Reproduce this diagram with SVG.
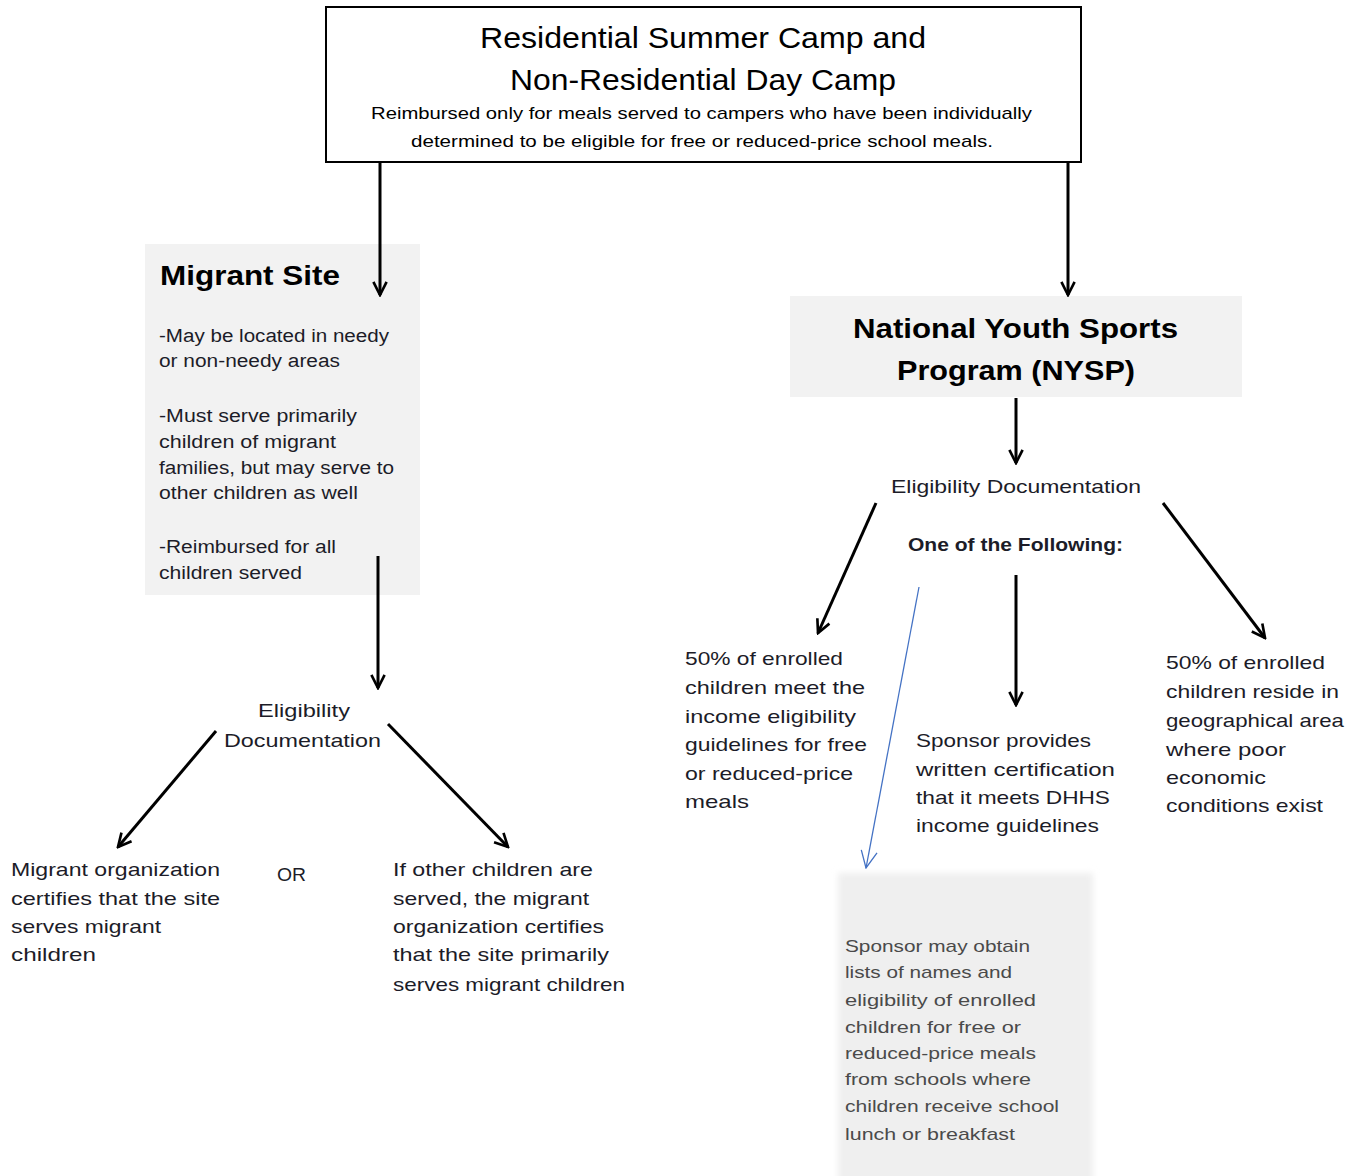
<svg xmlns="http://www.w3.org/2000/svg" width="1359" height="1176" viewBox="0 0 1359 1176">
<defs>
<marker id="ah" viewBox="0 0 10 10" refX="9" refY="5" markerWidth="5.5" markerHeight="5.5" orient="auto" markerUnits="strokeWidth">
<path d="M1,1 L9,5 L1,9" fill="none" stroke="#000" stroke-width="1.6"/>
</marker>
<marker id="ahb" viewBox="0 0 20 20" refX="19" refY="10" markerWidth="20" markerHeight="20" orient="auto" markerUnits="userSpaceOnUse">
<path d="M2,2 L19,10 L2,18" fill="none" stroke="#4472c4" stroke-width="1.3"/>
</marker>
<filter id="soft" x="-10%" y="-10%" width="120%" height="120%">
<feGaussianBlur stdDeviation="3"/>
</filter>
</defs>
<style>
text{font-family:"Liberation Sans",Arial,sans-serif;fill:#1c1c28}
.t1{font-size:30px;fill:#000}
.t2{font-size:17px;fill:#000}
.hb{font-size:28px;font-weight:bold;fill:#000}
.b{font-size:18px}
.s{font-size:19px}
.g{font-size:17px;fill:#4a4a4a}
.c line{stroke:#000;stroke-width:3;marker-end:url(#ah)}
</style>
<rect width="1359" height="1176" fill="#fff"/>

<g id="top">
<rect x="326" y="7" width="755" height="155" fill="#fff" stroke="#000" stroke-width="2"/>
<text class="t1" x="480" y="48" textLength="446" lengthAdjust="spacingAndGlyphs">Residential Summer Camp and</text>
<text class="t1" x="510" y="90" textLength="386" lengthAdjust="spacingAndGlyphs">Non-Residential Day Camp</text>
<text class="t2" x="371" y="119" textLength="661" lengthAdjust="spacingAndGlyphs">Reimbursed only for meals served to campers who have been individually</text>
<text class="t2" x="411" y="147" textLength="582" lengthAdjust="spacingAndGlyphs">determined to be eligible for free or reduced-price school meals.</text>
</g>

<g id="migrant">
<rect x="145" y="244" width="275" height="351" fill="#f2f2f2"/>
<text class="hb" x="160" y="285" textLength="180" lengthAdjust="spacingAndGlyphs">Migrant Site</text>
<text class="b" x="159" y="342" textLength="230" lengthAdjust="spacingAndGlyphs">-May be located in needy</text>
<text class="b" x="159" y="367" textLength="181" lengthAdjust="spacingAndGlyphs">or non-needy areas</text>
<text class="b" x="159" y="422" textLength="198" lengthAdjust="spacingAndGlyphs">-Must serve primarily</text>
<text class="b" x="159" y="448" textLength="177" lengthAdjust="spacingAndGlyphs">children of migrant</text>
<text class="b" x="159" y="474" textLength="235" lengthAdjust="spacingAndGlyphs">families, but may serve to</text>
<text class="b" x="159" y="499" textLength="199" lengthAdjust="spacingAndGlyphs">other children as well</text>
<text class="b" x="159" y="553" textLength="177" lengthAdjust="spacingAndGlyphs">-Reimbursed for all</text>
<text class="b" x="159" y="579" textLength="143" lengthAdjust="spacingAndGlyphs">children served</text>
</g>

<g id="elig-left">
<text class="s" x="258" y="717" textLength="92" lengthAdjust="spacingAndGlyphs">Eligibility</text>
<text class="s" x="224" y="747" textLength="157" lengthAdjust="spacingAndGlyphs">Documentation</text>
</g>

<g id="migrant-certifies">
<text class="s" x="11" y="876" textLength="209" lengthAdjust="spacingAndGlyphs">Migrant organization</text>
<text class="s" x="11" y="905" textLength="209" lengthAdjust="spacingAndGlyphs">certifies that the site</text>
<text class="s" x="11" y="933" textLength="150" lengthAdjust="spacingAndGlyphs">serves migrant</text>
<text class="s" x="11" y="961" textLength="85" lengthAdjust="spacingAndGlyphs">children</text>
</g>

<g id="or">
<text class="s" x="277" y="881" textLength="29" lengthAdjust="spacingAndGlyphs">OR</text>
</g>

<g id="other-children">
<text class="s" x="393" y="876" textLength="200" lengthAdjust="spacingAndGlyphs">If other children are</text>
<text class="s" x="393" y="905" textLength="196" lengthAdjust="spacingAndGlyphs">served, the migrant</text>
<text class="s" x="393" y="933" textLength="211" lengthAdjust="spacingAndGlyphs">organization certifies</text>
<text class="s" x="393" y="961" textLength="216" lengthAdjust="spacingAndGlyphs">that the site primarily</text>
<text class="s" x="393" y="991" textLength="232" lengthAdjust="spacingAndGlyphs">serves migrant children</text>
</g>

<g id="nysp">
<rect x="790" y="296" width="452" height="101" fill="#f2f2f2"/>
<text class="hb" x="853" y="338" font-size="30" textLength="325" lengthAdjust="spacingAndGlyphs">National Youth Sports</text>
<text class="hb" x="897" y="380" font-size="30" textLength="238" lengthAdjust="spacingAndGlyphs">Program (NYSP)</text>
</g>

<g id="elig-right">
<text class="s" x="891" y="493" textLength="250" lengthAdjust="spacingAndGlyphs">Eligibility Documentation</text>
<text class="s" x="908" y="551" font-weight="bold" textLength="215" lengthAdjust="spacingAndGlyphs">One of the Following:</text>
</g>

<g id="income-50">
<text class="s" x="685" y="665" textLength="158" lengthAdjust="spacingAndGlyphs">50% of enrolled</text>
<text class="s" x="685" y="694" textLength="180" lengthAdjust="spacingAndGlyphs">children meet the</text>
<text class="s" x="685" y="723" textLength="171" lengthAdjust="spacingAndGlyphs">income eligibility</text>
<text class="s" x="685" y="751" textLength="182" lengthAdjust="spacingAndGlyphs">guidelines for free</text>
<text class="s" x="685" y="780" textLength="168" lengthAdjust="spacingAndGlyphs">or reduced-price</text>
<text class="s" x="685" y="808" textLength="64" lengthAdjust="spacingAndGlyphs">meals</text>
</g>

<g id="sponsor-cert">
<text class="s" x="916" y="747" textLength="175" lengthAdjust="spacingAndGlyphs">Sponsor provides</text>
<text class="s" x="916" y="776" textLength="199" lengthAdjust="spacingAndGlyphs">written certification</text>
<text class="s" x="916" y="804" textLength="194" lengthAdjust="spacingAndGlyphs">that it meets DHHS</text>
<text class="s" x="916" y="832" textLength="183" lengthAdjust="spacingAndGlyphs">income guidelines</text>
</g>

<g id="geo-50">
<text class="s" x="1166" y="669" textLength="159" lengthAdjust="spacingAndGlyphs">50% of enrolled</text>
<text class="s" x="1166" y="698" textLength="173" lengthAdjust="spacingAndGlyphs">children reside in</text>
<text class="s" x="1166" y="727" textLength="178" lengthAdjust="spacingAndGlyphs">geographical area</text>
<text class="s" x="1166" y="756" textLength="120" lengthAdjust="spacingAndGlyphs">where poor</text>
<text class="s" x="1166" y="784" textLength="100" lengthAdjust="spacingAndGlyphs">economic</text>
<text class="s" x="1166" y="812" textLength="157" lengthAdjust="spacingAndGlyphs">conditions exist</text>
</g>

<g id="school-lists">
<rect x="838" y="873" width="255" height="320" fill="#efefef" filter="url(#soft)"/>
<text class="g" x="845" y="952" textLength="185" lengthAdjust="spacingAndGlyphs">Sponsor may obtain</text>
<text class="g" x="845" y="978" textLength="167" lengthAdjust="spacingAndGlyphs">lists of names and</text>
<text class="g" x="845" y="1006" textLength="191" lengthAdjust="spacingAndGlyphs">eligibility of enrolled</text>
<text class="g" x="845" y="1033" textLength="176" lengthAdjust="spacingAndGlyphs">children for free or</text>
<text class="g" x="845" y="1059" textLength="191" lengthAdjust="spacingAndGlyphs">reduced-price meals</text>
<text class="g" x="845" y="1085" textLength="186" lengthAdjust="spacingAndGlyphs">from schools where</text>
<text class="g" x="845" y="1112" textLength="214" lengthAdjust="spacingAndGlyphs">children receive school</text>
<text class="g" x="845" y="1140" textLength="170" lengthAdjust="spacingAndGlyphs">lunch or breakfast</text>
</g>

<g id="connectors" class="c">
<line x1="380" y1="163" x2="380" y2="295"/>
<line x1="1068" y1="163" x2="1068" y2="295"/>
<line x1="378" y1="556" x2="378" y2="688"/>
<line x1="216" y1="731" x2="118" y2="847"/>
<line x1="388" y1="724" x2="508" y2="847"/>
<line x1="1016" y1="398" x2="1016" y2="463"/>
<line x1="876" y1="503" x2="818" y2="633"/>
<line x1="1016" y1="575" x2="1016" y2="705"/>
<line x1="1163" y1="503" x2="1265" y2="638"/>
<line x1="919" y1="587" x2="866" y2="868" style="stroke:#4472c4;stroke-width:1.3;marker-end:url(#ahb)"/>
</g>
</svg>
